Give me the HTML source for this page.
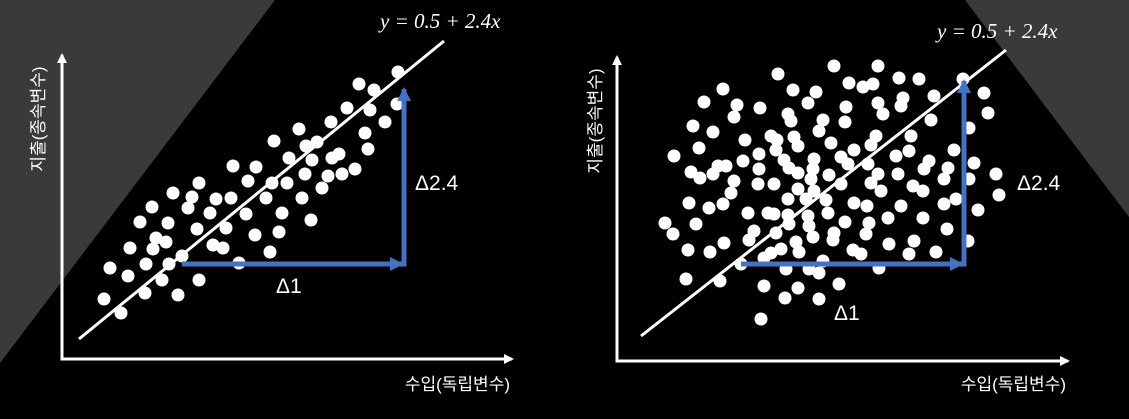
<!DOCTYPE html>
<html><head><meta charset="utf-8"><style>
html,body{margin:0;padding:0;background:#000;width:1129px;height:419px;overflow:hidden}
svg{display:block}
.lbl{fill:#fff;font-family:"Liberation Sans","Noto Sans CJK KR",sans-serif;font-size:17px}
.eq{fill:#fff;font-family:"Liberation Serif",serif;font-style:italic;font-size:21px}
.d{fill:#fff;font-family:"Liberation Sans",sans-serif;font-size:21px}
</style></head><body>
<svg id="chart" width="1129" height="419">
<polygon points="0,0 275,0 0,363" fill="#3a3a3a"/>
<polygon points="965,0 1129,0 1129,217" fill="#3a3a3a"/>
<defs>
<marker id="wa" markerWidth="10" markerHeight="10" refX="8" refY="5" orient="auto" markerUnits="userSpaceOnUse"><path d="M0,0 L10,5 L0,10 z" fill="#fff"/></marker>
<marker id="ba" markerWidth="14" markerHeight="14" refX="12" refY="7" orient="auto" markerUnits="userSpaceOnUse"><path d="M0,0 L14,7 L0,14 z" fill="#4472c4"/></marker>
</defs>
<g id="left"></g>
<g id="right"></g>
</svg>
<script>
// left panel data (units from axis origin)
const leftX=[336,297,312,335,285,308,323,269,303,237,212,255,244,306,277,227,270,250,293,280,266,243,171,194,137,111,186,210,225,260,130,154,169,204,240,90,126,148,184,220,78,106,249,135,164,217,193,94,104,68,91,151,161,208,120,84,107,48,177,66,100,137,83,116,42,59];
const leftY=[287,275,269,255,251,249,237,237,226,230,218,217,213,210,205,201,201,199,190,185,183,185,193,192,176,166,178,176,176,171,162,160,161,161,161,152,151,146,145,146,137,136,139,130,131,127,124,121,117,111,110,114,111,107,103,95,95,91,96,83,79,79,66,64,60,46];
// right panel data
const rightX=[217,261,161,282,302,346,232,246,256,106,176,199,367,317,286,87,191,261,120,143,229,284,371,266,171,117,174,206,228,314,76,202,352,96,154,177,259,294,128,160,214,181,254,82,237,292,159,57,142,224,279,337,197,167,126,357,109,101,312,231,251,172,196,331,74,142,181,212,261,281,307,379,83,96,352,327,117,157,141,194,254,224,296,197,181,114,306,264,382,72,189,171,339,209,327,92,106,237,250,284,131,151,191,211,361,171,157,48,79,228,252,271,306,56,172,192,330,137,159,217,249,132,196,179,216,107,351,71,93,272,297,164,154,182,236,244,292,319,124,147,169,206,192,202,262,69,103,147,181,222,168,202,144];
const rightY=[295,295,287,283,282,282,278,274,277,272,271,269,268,265,263,259,258,258,256,253,254,255,248,247,247,244,240,241,239,241,235,230,233,229,225,224,225,225,221,221,218,215,216,213,211,210,211,205,207,204,205,211,202,201,200,198,195,195,200,197,197,193,192,193,189,192,188,186,187,187,192,187,183,187,182,182,180,177,177,182,178,177,175,170,172,168,170,170,166,158,162,162,162,161,157,153,157,158,155,155,148,148,145,148,151,146,147,138,137,139,138,143,143,127,137,135,132,130,128,128,127,121,124,119,121,118,120,111,109,117,120,112,108,109,111,107,107,109,97,103,92,100,92,88,93,82,80,75,73,77,63,62,42];
const leftLine=[[17,20],[382,318]];
const rightLine=[[24,25],[389,311]];
const leftArrow=[[120,95],[342,95],[342,270]];
const rightArrow=[[124,97],[347,97],[347,280]];
const NS='http://www.w3.org/2000/svg';
function mk(p,t,a){const e=document.createElementNS(NS,t);for(const k in a)e.setAttribute(k,a[k]);p.appendChild(e);return e;}
function panel(g,ox,oy,xs,ys,line,arr,cfg){
  const sx=v=>ox+v, sy=v=>oy-v;
  let e;
  e=mk(g,'line',{x1:ox,y1:oy,x2:ox,y2:oy-304,stroke:'#fff','stroke-width':3,'marker-end':'url(#wa)'});
  
  
  e=mk(g,'line',{x1:ox-1.5,y1:oy,x2:cfg.xe,y2:oy,stroke:'#fff','stroke-width':3,'marker-end':'url(#wa)'});
  
  
  for(let i=0;i<xs.length;i++){
    e=mk(g,'circle',{cx:sx(xs[i]),cy:sy(ys[i]),r:6.5,fill:'#fff'});
    
    
  }
  e=mk(g,'line',{x1:sx(line[0][0]),y1:sy(line[0][1]),x2:sx(line[1][0]),y2:sy(line[1][1]),stroke:'#fff','stroke-width':3});
  
  
  e=mk(g,'line',{x1:sx(arr[0][0]),y1:sy(arr[0][1]),x2:sx(arr[1][0])-2,y2:sy(arr[1][1]),stroke:'#4472c4','stroke-width':5,'marker-end':'url(#ba)'});
  
  
  e=mk(g,'line',{x1:sx(arr[1][0]),y1:sy(arr[1][1])+2.5,x2:sx(arr[2][0]),y2:sy(arr[2][1]),stroke:'#4472c4','stroke-width':5,'marker-end':'url(#ba)'});
  
  
  e=mk(g,'text',{x:cfg.ylx,y:oy-240,class:'lbl','text-anchor':'middle',transform:'rotate(-90 '+cfg.ylx+' '+(oy-240)+')'});
  e.textContent='지출(종속변수)';
  
  
  e=mk(g,'text',{x:cfg.xlx,y:390,class:'lbl','text-anchor':'end'});
  e.textContent='수입(독립변수)';
  
  
  e=mk(g,'text',{x:cfg.eqx,y:cfg.eqy,class:'eq'});
  e.textContent='y = 0.5 + 2.4x';
  
  
  e=mk(g,'text',{x:cfg.d1x,y:cfg.d1y,class:'d'});
  e.textContent='Δ1';
  
  
  e=mk(g,'text',{x:cfg.d2x,y:190,class:'d'});
  e.textContent='Δ2.4';
  
  
}
panel(document.getElementById('left'),62,359,leftX,leftY,leftLine,leftArrow,{xe:512,ylx:44,xlx:510,eqx:380,eqy:28,d1x:276,d1y:293,d2x:415});
panel(document.getElementById('right'),617,361,rightX,rightY,rightLine,rightArrow,{xe:1068,ylx:601,xlx:1066,eqx:937,eqy:38,d1x:834,d1y:320,d2x:1017});
</script>
</body></html>
